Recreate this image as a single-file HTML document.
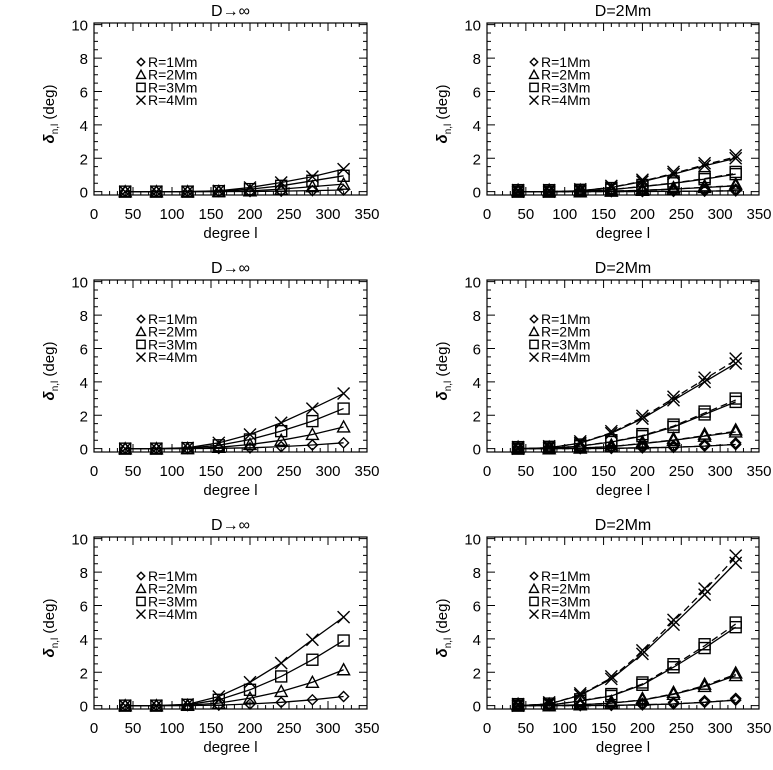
<!DOCTYPE html>
<html><head><meta charset="utf-8"><style>
html,body{margin:0;padding:0;background:#fff;}
svg{display:block;font-family:"Liberation Sans","DejaVu Sans",sans-serif;}
</style></head><body>
<svg id="fig" width="773" height="770" viewBox="0 0 773 770" xmlns="http://www.w3.org/2000/svg"></svg>
<script>
const degrees = [40,80,120,160,200,240,280,320];
const seriesNames = ["R=1Mm","R=2Mm","R=3Mm","R=4Mm"];
const panelTitles = ["D\u2192\u221e","D=2Mm","D\u2192\u221e","D=2Mm","D\u2192\u221e","D=2Mm"];
const xTicks = [0,50,100,150,200,250,300,350];
const yTicks = [0,2,4,6,8,10];
// values per panel: [R1, R2, R3, R4]
const p1R1=[0,0,0,0,0.01,0.03,0.06,0.1], p1R2=[0,0,0,0.01,0.05,0.15,0.3,0.45], p1R3=[0,0,0,0.03,0.15,0.35,0.65,0.95], p1R4=[0,0,0,0.05,0.25,0.55,0.9,1.35];
const p2R1=[0,0,0,0,0.01,0.02,0.03,0.05], p2R2=[0,0,0,0.03,0.08,0.15,0.25,0.35], p2R3=[0,0,0.02,0.12,0.3,0.5,0.75,1.05], p2R4=[0,0,0.05,0.25,0.6,1.05,1.55,2.0];
const p3R1=[0,0,0,0.02,0.05,0.12,0.22,0.35], p3R2=[0,0,0.01,0.08,0.25,0.5,0.85,1.3], p3R3=[0,0,0.03,0.2,0.55,1.05,1.65,2.4], p3R4=[0,0,0.05,0.35,0.85,1.55,2.4,3.3];
const p4R1=[0,0,0,0.02,0.05,0.08,0.15,0.25], p4R2=[0,0,0.04,0.12,0.3,0.5,0.75,1.0], p4R3=[0,0.02,0.15,0.4,0.75,1.3,2.05,2.8], p4R4=[0,0.05,0.33,0.92,1.8,2.9,4.0,5.1];
const p5R1=[0,0,0,0.03,0.1,0.2,0.35,0.55], p5R2=[0,0,0.02,0.15,0.45,0.85,1.4,2.15], p5R3=[0,0,0.05,0.35,0.95,1.75,2.75,3.9], p5R4=[0,0,0.08,0.55,1.4,2.55,3.95,5.3];
const p6R1=[0,0,0,0.02,0.05,0.1,0.2,0.33], p6R2=[0,0,0.05,0.15,0.33,0.68,1.15,1.8], p6R3=[0,0.03,0.28,0.58,1.25,2.3,3.45,4.7], p6R4=[0,0.1,0.62,1.6,3.1,4.85,6.65,8.55];
const panelData=[[p1R1,p1R2,p1R3,p1R4],[p2R1,p2R2,p2R3,p2R4],[p3R1,p3R2,p3R3,p3R4],[p4R1,p4R2,p4R3,p4R4],[p5R1,p5R2,p5R3,p5R4],[p6R1,p6R2,p6R3,p6R4]];
const dashFactor = 1.04;

const NS="http://www.w3.org/2000/svg";
const fig=document.getElementById('fig');
function mk(tag,attrs,parent){const e=document.createElementNS(NS,tag);for(const k in attrs)e.setAttribute(k,attrs[k]);parent.appendChild(e);return e;}

function symbol(g,k,cx,cy,s){
  s=s||1;let e;
  if(k===0){e=mk('polygon',{points:`${cx},${cy-5*s} ${cx+5*s},${cy} ${cx},${cy+5*s} ${cx-5*s},${cy}`,fill:'none',stroke:'#000','stroke-width':1.4},g);}
  else if(k===1){e=mk('polygon',{points:`${cx},${cy-6*s} ${cx+6*s},${cy+5*s} ${cx-6*s},${cy+5*s}`,fill:'none',stroke:'#000','stroke-width':1.4},g);}
  else if(k===2){e=mk('rect',{x:cx-5.5*s,y:cy-5.5*s,width:11*s,height:11*s,fill:'none',stroke:'#000','stroke-width':1.4},g);}
  else {e=mk('path',{d:`M${cx-6*s},${cy-6*s}L${cx+6*s},${cy+6*s}M${cx+6*s},${cy-6*s}L${cx-6*s},${cy+6*s}`,stroke:'#000','stroke-width':1.4},g);}
  return e;
}

for(let p=0;p<6;p++){
  const col=p%2,row=Math.floor(p/2);
  const L=col?487:94, R=col?759:367, T=23+257*row, B=195+257*row;
  const xMin=0,xMax=350,yMin=-0.2,yMax=10.1;
  const X=v=>L+(v-xMin)/(xMax-xMin)*(R-L);
  const Y=v=>B-(v-yMin)/(yMax-yMin)*(B-T);
  const g=mk('g',{},fig);
  
  
  const t=mk('text',{x:(L+R)/2,y:T-7,'text-anchor':'middle','font-size':16},g);t.textContent=panelTitles[p];
  
  const box=mk('rect',{x:L,y:T,width:R-L,height:B-T,fill:'none',stroke:'#000','stroke-width':1.2},g);
  
  let d='';
  for(let v=0;v<=350;v+=10){const x=X(v);const len=v%50===0?8:4;d+=`M${x},${B}v${-len}M${x},${T}v${len}`;}
  for(let v=0;v<=10;v+=0.5){const y=Y(v);const len=(Math.abs(v%2)<1e-9)?8:4;d+=`M${L},${y}h${len}M${R},${y}h${-len}`;}
  const ticks=mk('path',{d:d,stroke:'#000','stroke-width':1},g);
  
  xTicks.forEach(v=>{const e=mk('text',{x:X(v),y:B+24,'text-anchor':'middle','font-size':15},g);e.textContent=v;
    });
  yTicks.forEach(v=>{const e=mk('text',{x:L-6,y:Y(v)+6,'text-anchor':'end','font-size':15},g);e.textContent=v;
    });
  const xl=mk('text',{x:(L+R)/2,y:B+43,'text-anchor':'middle','font-size':15},g);xl.textContent='degree l';
  
  const yx=L-40, yy=(T+B)/2+5;
  const yl=mk('text',{x:yx,y:yy,'text-anchor':'middle','font-size':15,transform:`rotate(-90 ${yx} ${yy})`},g);
  
  const s1=mk('tspan',{'font-weight':'bold','font-style':'italic'},yl);s1.textContent='\u03b4';
  const s2=mk('tspan',{'font-size':10,dy:4},yl);s2.textContent='n,l';
  const s3=mk('tspan',{dy:-4},yl);s3.textContent=' (deg)';
  // legend
  for(let k=0;k<4;k++){
    const ly=T+39+12.7*k;
    const lg=mk('g',{},g);
    
    symbol(lg,k,L+47,ly,0.75);
    const lt=mk('text',{x:L+54,y:ly+5,'font-size':14},lg);lt.textContent=seriesNames[k];
  }
  // series
  panelData[p].forEach((vals,k)=>{
    const sg=mk('g',{},g);
    
    
    const pts=degrees.map((l,i)=>X(l)+','+Y(vals[i])).join(' ');
    mk('polyline',{points:pts,fill:'none',stroke:'#000','stroke-width':1.3},sg);
    if(col===1){
      const pts2=degrees.map((l,i)=>X(l)+','+Y(vals[i]*dashFactor)).join(' ');
      mk('polyline',{points:pts2,fill:'none',stroke:'#000','stroke-width':1.3,'stroke-dasharray':'7,4'},sg);
    }
    degrees.forEach((l,i)=>{
      const m=symbol(sg,k,X(l),Y(vals[i]));
      
      if(col===1){const m2=symbol(sg,k,X(l),Y(vals[i]*dashFactor)-1.5);
        }
    });
  });
}
</script>
</body></html>
